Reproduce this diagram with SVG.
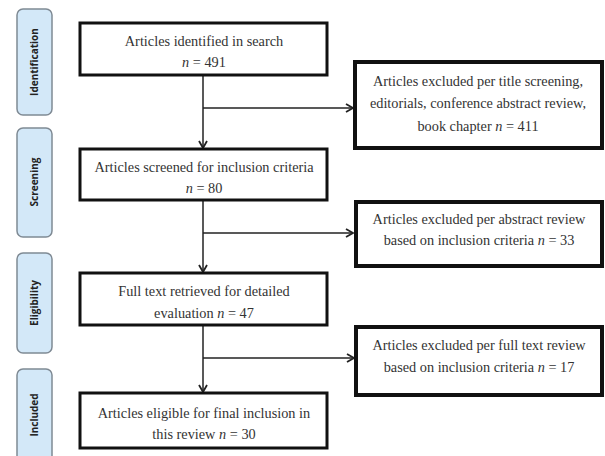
<svg xmlns="http://www.w3.org/2000/svg" width="605" height="456" viewBox="0 0 605 456">
<defs>
<style>
.side rect{fill:#d3e8f8;stroke:#7f8a94;stroke-width:1.5}
.side text{font-family:"Open Sans","DejaVu Sans",sans-serif;font-weight:bold;font-size:10px;fill:#222;text-anchor:middle}
.box rect{fill:#fff;stroke:#111;stroke-width:3}
.exc rect{fill:#fff;stroke:#111;stroke-width:4}
.box text,.exc text{font-family:"Liberation Serif","Times New Roman",serif;font-size:14.3px;fill:#333;text-anchor:middle}
.n{font-style:italic}
.conn line{stroke:#222;stroke-width:1.5}
</style>
<marker id="arr" markerWidth="10" markerHeight="10" refX="8" refY="5" orient="auto" markerUnits="userSpaceOnUse">
<path d="M1,1 L8,5 L1,9" fill="none" stroke="#222" stroke-width="1.8"/>
</marker>
</defs>
<rect width="605" height="456" fill="#fff"/>
<g id="side-identification" class="side"><rect x="17" y="9" width="35" height="106" rx="6"/><text transform="translate(38,62) rotate(-90)">Identification</text></g>
<g id="side-screening" class="side"><rect x="17" y="128" width="35" height="109" rx="6"/><text transform="translate(38,182) rotate(-90)">Screening</text></g>
<g id="side-eligibility" class="side"><rect x="17" y="253" width="35" height="100" rx="6"/><text transform="translate(38,303) rotate(-90)">Eligibility</text></g>
<g id="side-included" class="side"><rect x="17" y="369" width="35" height="95" rx="6"/><text transform="translate(38,415) rotate(-90)">Included</text></g>
<g class="conn" id="connectors">
<line x1="203" y1="75" x2="203" y2="148" marker-end="url(#arr)"/>
<line x1="203" y1="108" x2="353" y2="108" marker-end="url(#arr)"/>
<line x1="203" y1="200" x2="203" y2="272" marker-end="url(#arr)"/>
<line x1="203" y1="233" x2="353" y2="233" marker-end="url(#arr)"/>
<line x1="203" y1="325" x2="203" y2="392" marker-end="url(#arr)"/>
<line x1="203" y1="358" x2="354" y2="358" marker-end="url(#arr)"/>
</g>
<g id="n1" class="box"><rect x="80" y="23" width="247" height="52"/><text x="204" y="46">Articles identified in search</text><text x="204" y="67"><tspan class="n">n</tspan> = 491</text></g>
<g id="x1" class="exc"><rect x="355" y="62" width="247" height="86"/><text x="478" y="86">Articles excluded per title screening,</text><text x="478" y="108">editorials, conference abstract review,</text><text x="478" y="131">book chapter <tspan class="n">n</tspan> = 411</text></g>
<g id="n2" class="box"><rect x="80" y="149" width="247" height="51"/><text x="204" y="172">Articles screened for inclusion criteria</text><text x="204" y="193"><tspan class="n">n</tspan> = 80</text></g>
<g id="x2" class="exc"><rect x="356" y="202" width="246" height="64"/><text x="479" y="224">Articles excluded per abstract review</text><text x="479" y="245">based on inclusion criteria <tspan class="n">n</tspan> = 33</text></g>
<g id="n3" class="box"><rect x="80" y="273" width="247" height="52"/><text x="204" y="296">Full text retrieved for detailed</text><text x="204" y="318">evaluation <tspan class="n">n</tspan> = 47</text></g>
<g id="x3" class="exc"><rect x="356" y="327" width="246" height="68"/><text x="479" y="350">Articles excluded per full text review</text><text x="479" y="372">based on inclusion criteria <tspan class="n">n</tspan> = 17</text></g>
<g id="n4" class="box"><rect x="80" y="393" width="247" height="55"/><text x="204" y="418">Articles eligible for final inclusion in</text><text x="204" y="439">this review <tspan class="n">n</tspan> = 30</text></g>
</svg>
